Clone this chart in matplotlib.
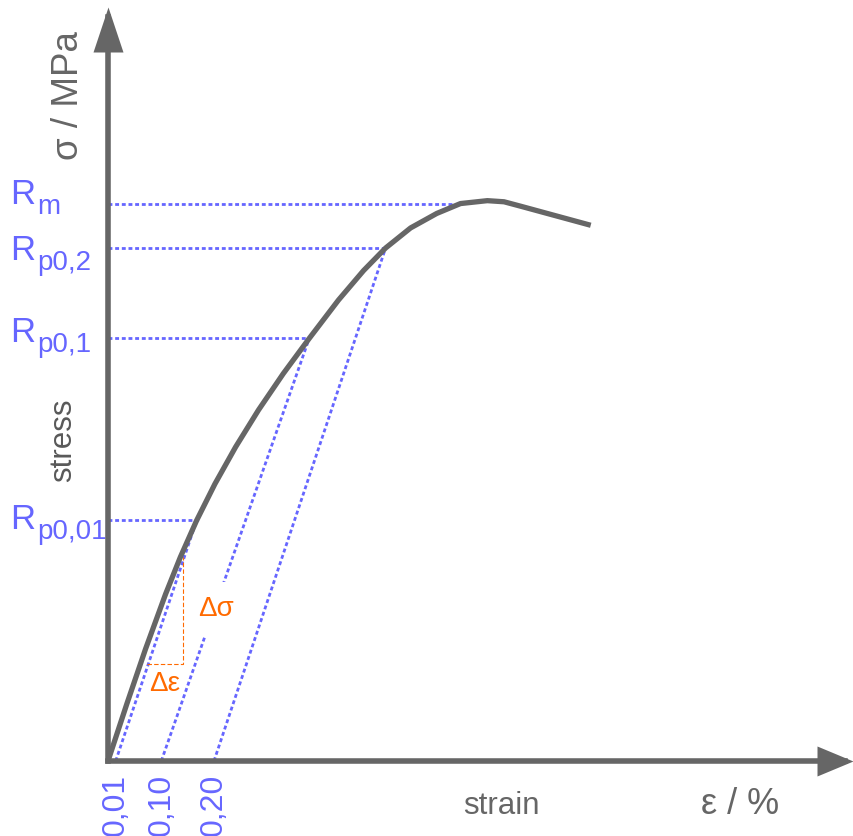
import matplotlib
matplotlib.use("Agg")
import matplotlib.pyplot as plt
from matplotlib.path import Path

plt.rcParams['font.family'] = ['Liberation Sans', 'DejaVu Sans']

############
# data (strain in %, stress in MPa)
curve_strain = [0, 0.0355, 0.0708, 0.1087, 0.1366, 0.1672, 0.2017, 0.2408, 0.284,
                0.3308, 0.3796, 0.4349, 0.4823, 0.5238, 0.5709, 0.6202, 0.6651,
                0.7157, 0.7472, 0.7787, 0.8289, 0.9108]
curve_stress = [0, 51.2, 100.5, 149.9, 183.1, 215.9, 248.7, 281.9, 315.1,
                347.8, 379.3, 413.8, 440.3, 460.5, 478.5, 491.5, 500.4,
                503.0, 502.0, 498.0, 491.5, 480.9]

# characteristic stresses and where their lines end
r_names = ['m', 'p0,2', 'p0,1', 'p0,01']
r_stress = [500.4, 460.5, 379.3, 215.9]
r_strain = [0.6651, 0.5238, 0.3796, 0.172]

# offset lines: start on the strain axis, end on the curve
offset_strain = [0.0145, 0.1006, 0.2]
offset_labels = ['0,01', '0,10', '0,20']
offset_end_strain = [0.1672, 0.3796, 0.5238]
offset_end_stress = [215.9, 379.3, 460.5]

# slope triangle
tri_strain = [0.0742, 0.142, 0.142]
tri_stress = [87.2, 87.2, 183]
############

gray = '#666666'
blue = '#6666ff'
orange = '#ff6a00'

fig = plt.figure(figsize=(8.54, 8.36), dpi=100)
ax = fig.add_axes([0, 0, 1, 1])
ax.axis('off')
ax.set_xlim(-108 / 530, 746 / 530)
ax.set_ylim(-75 / 1.114, 761 / 1.114)

# axes with arrow heads
x_tip, y_tip = 1.4057, 676.8
ax.plot([0, 1.39], [0, 0], color=gray, lw=4, solid_capstyle='projecting', zorder=5)
ax.plot([0, 0], [0, 668], color=gray, lw=4, solid_capstyle='projecting', zorder=5)
head_x = Path([(0, 0), (-36, 15), (-36, -15), (0, 0)])
head_y = Path([(0, 0), (-15, -45), (15, -45), (0, 0)])
ax.plot(x_tip, 0, marker=head_x, markersize=72 * 0.72, color=gray, mew=0, zorder=6)
ax.plot(0, y_tip, marker=head_y, markersize=90 * 0.72, color=gray, mew=0, zorder=6)

# stress-strain curve
ax.plot(curve_strain, curve_stress, color=gray, lw=3.8, solid_joinstyle='round',
        solid_capstyle='butt', zorder=5)

dots = (0, (1.4, 1.0))
# horizontal lines to the stress axis
for s, e in zip(r_stress, r_strain):
    ax.plot([0, e], [s, s], color=blue, lw=2, ls=dots, zorder=2)

# offset (parallel) lines
for x0, x1, y1 in zip(offset_strain, offset_end_strain, offset_end_stress):
    ax.plot([x0, x1], [0, y1], color=blue, lw=2, ls=dots, zorder=2)

# slope triangle
ax.plot(tri_strain, tri_stress, color=orange, lw=0.8, ls=(0, (4, 2)), zorder=4)
ax.text(0.203, 136.5, 'Δσ', color=orange, fontsize=20, ha='center', va='center', zorder=3,
        bbox=dict(boxstyle='square,pad=0.5', facecolor='white', edgecolor='none'))
ax.text(0.1075, 69, 'Δε', color=orange, fontsize=20, ha='center', va='center', zorder=3)

# R labels on the stress axis
label_dy = [0, -8.6, -2.9, -5.8]
for name, s, dy in zip(r_names, r_stress, label_dy):
    ax.annotate('R', xy=(-0.185, s), xytext=(0, dy), textcoords='offset points',
                color=blue, fontsize=25, ha='left', va='baseline')
    ax.annotate(name, xy=(-0.185, s), xytext=(19.4, dy - 7.2), textcoords='offset points',
                color=blue, fontsize=20, ha='left', va='baseline')

# strain offset labels
for x0, lab in zip(offset_strain, offset_labels):
    ax.annotate(lab, xy=(x0, 0), xytext=(0, -9), textcoords='offset points',
                color=blue, fontsize=23, rotation=90, ha='center', va='top')

# axis titles
ax.text(-0.0736, 597, 'σ / MPa', color=gray, fontsize=26.5, rotation=90, ha='center', va='center')
ax.text(-0.085, 288, 'stress', color='#595959', fontsize=22.5, rotation=90, ha='center', va='center')
ax.text(0.742, -40, 'strain', color=gray, fontsize=22.5, ha='center', va='center')
ax.text(1.192, -39, 'ε / %', color=gray, fontsize=26, ha='center', va='center')

fig.savefig('out.png', dpi=100)
plt.close()
